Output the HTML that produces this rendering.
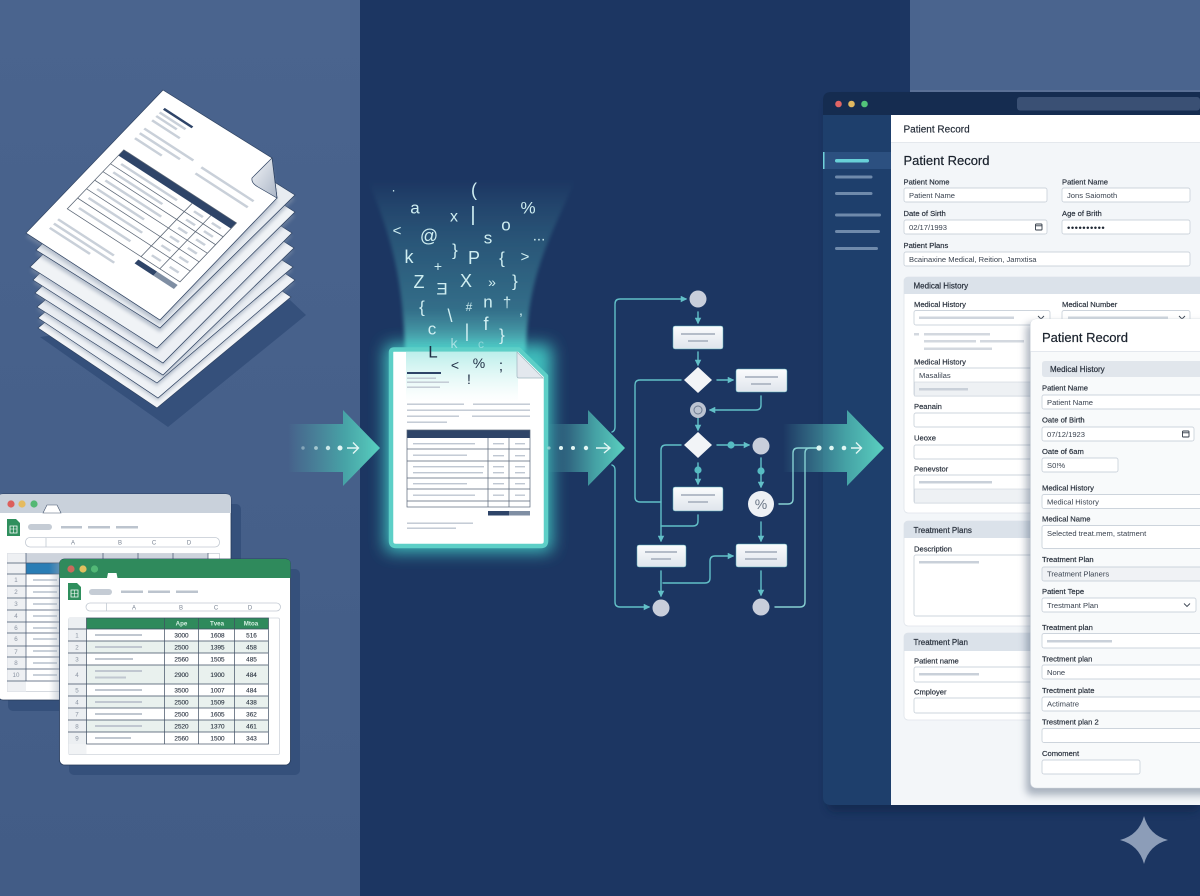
<!DOCTYPE html>
<html><head><meta charset="utf-8"><title>Documents to app pipeline</title>
<style>
html,body{margin:0;padding:0;background:#1c3560}
svg{display:block}
text{font-family:"Liberation Sans","DejaVu Sans",sans-serif}
.l{font-size:7.6px;fill:#28303c;stroke:#28303c;stroke-width:.18}
.v{font-size:7.6px;fill:#3a4350}
.h{font-size:8px;fill:#28303c;stroke:#28303c;stroke-width:.2}
.f{fill:#fff;stroke:#cdd4dc;stroke-width:.9}
.g{fill:#c9d0d9}
.n{font-size:6.4px;fill:#2a3340;text-anchor:middle;stroke:#2a3340;stroke-width:.12}
.rn{font-size:6.2px;fill:#8b94a2;text-anchor:middle}
.c{font-size:6px;fill:#7a8494;text-anchor:middle}
.s{fill:#cfeef1;text-anchor:middle;dominant-baseline:central}
.d{fill:#1f2e44;text-anchor:middle;dominant-baseline:central}
.fl{fill:none;stroke:#62c0c8;stroke-width:1.4;stroke-linejoin:round;stroke-linecap:round}
.r{fill:url(#rg)}
.b{fill:#b4bcc8}
.node{fill:#c8cedb}
.dot{fill:#56bcc2}
</style></head>
<body>
<svg width="1200" height="896" viewBox="0 0 1200 896" xmlns="http://www.w3.org/2000/svg">
<defs>
<linearGradient id="bgL" x1="0" y1="0" x2="0" y2="1"><stop offset="0" stop-color="#4a648e"/><stop offset="1" stop-color="#425c86"/></linearGradient>
<linearGradient id="rg" x1="0" y1="0" x2="0" y2="1"><stop offset="0" stop-color="#fbfcfd"/><stop offset="1" stop-color="#dfe5ec"/></linearGradient>
<linearGradient id="fold" x1="0" y1="0" x2="1" y2="1"><stop offset="0" stop-color="#f3f5f8"/><stop offset="1" stop-color="#aab5c6"/></linearGradient>
<linearGradient id="a1" x1="0" y1="0" x2="1" y2="0"><stop offset="0" stop-color="#4fa9ab" stop-opacity="0"/><stop offset=".18" stop-color="#4aa0a6" stop-opacity=".3"/><stop offset=".62" stop-color="#47a7a8" stop-opacity=".95"/><stop offset="1" stop-color="#5ad0c0"/></linearGradient>
<linearGradient id="fn" x1="0" y1="0" x2="0" y2="1"><stop offset="0" stop-color="#5cc4c4" stop-opacity="0"/><stop offset=".35" stop-color="#4fb2b8" stop-opacity=".25"/><stop offset=".75" stop-color="#4fb2b8" stop-opacity=".45"/><stop offset="1" stop-color="#62d6d0" stop-opacity=".85"/></linearGradient>
<linearGradient id="dt" x1="0" y1="0" x2="0" y2="1"><stop offset="0" stop-color="#8fe3dd" stop-opacity=".6"/><stop offset="1" stop-color="#bff0ec" stop-opacity="0"/></linearGradient>
<linearGradient id="cs" x1="0" y1="0" x2="1" y2="0"><stop offset="0" stop-color="#9aa6b5" stop-opacity="0"/><stop offset="1" stop-color="#9aa6b5" stop-opacity=".45"/></linearGradient>
<filter id="bl" x="-30%" y="-30%" width="160%" height="160%"><feGaussianBlur stdDeviation="8"/></filter>
<filter id="bl2" x="-30%" y="-30%" width="160%" height="160%"><feGaussianBlur stdDeviation="4"/></filter>
<filter id="bl1" x="-20%" y="-20%" width="140%" height="140%"><feGaussianBlur stdDeviation="1.8"/></filter>
<marker id="m" viewBox="0 0 8 8" refX="6.5" refY="4" markerWidth="6.5" markerHeight="6.5" markerUnits="userSpaceOnUse" orient="auto"><path d="M0 0L8 4L0 8Z" fill="#62c0c8"/></marker>
</defs>

<!-- backgrounds -->
<rect width="1200" height="896" fill="#1c3662"/>
<rect width="360" height="896" fill="url(#bgL)"/>
<rect x="910" width="290" height="100" fill="#4a648e"/>

<!-- paper stack -->
<polygon points="40,337 168,427 306,315 290,300 160,320" fill="#35507b"/>
<g stroke="#2d4160" stroke-width=".7">
<polygon points="38,328 157,408 291,297 172,217" fill="#f2f4f7"/>
<polygon points="38,318 158,398 295,280 175,200" fill="#8795aa" opacity=".45" stroke="none" transform="translate(0,3)" filter="url(#bl1)"/>
<polygon points="38,318 158,398 295,280 175,200" fill="#eff2f6"/>
<polygon points="37,307 157,383 293,267 173,191" fill="#8795aa" opacity=".5" stroke="none" transform="translate(0,3)" filter="url(#bl1)"/>
<polygon points="37,307 157,383 293,267 173,191" fill="#e9edf2"/>
<polygon points="35,293 163,375 294,248 166,166" fill="#8795aa" opacity=".5" stroke="none" transform="translate(0,3)" filter="url(#bl1)"/>
<polygon points="35,293 163,375 294,248 166,166" fill="#eef1f5"/>
<polygon points="33,280 163,363 292,233 162,150" fill="#8795aa" opacity=".5" stroke="none" transform="translate(0,3)" filter="url(#bl1)"/>
<polygon points="33,280 163,363 292,233 162,150" fill="#eceff4"/>
<polygon points="30,267 157,348 295,212 168,131" fill="#8795aa" opacity=".5" stroke="none" transform="translate(0,4)" filter="url(#bl1)"/>
<polygon points="30,267 157,348 295,212 168,131" fill="#f0f3f6"/>
<polygon points="36,250 160,328 295,195 171,117" fill="#8795aa" opacity=".55" stroke="none" transform="translate(0,4)" filter="url(#bl1)"/>
<polygon points="36,250 160,328 295,195 171,117" fill="#e8ecf1"/>
<polygon points="163,90 272,158 277,198 160,320 26,233" fill="#8795aa" opacity=".5" stroke="none" transform="translate(0,4)" filter="url(#bl1)"/>
<polygon points="163,90 272,158 277,198 160,320 26,233" fill="#fff"/>
<path d="M272,158L252,178Q251,183 258,187L277,198Z" fill="url(#fold)"/>
</g>
<g transform="matrix(.447 .29 -.3425 .3575 163 90)">
<rect x="26" y="29" width="64" height="5" fill="#2e4468"/>
<g class="g">
<rect x="25" y="40" width="58" height="5"/><rect x="25" y="50" width="46" height="5"/><rect x="25" y="62" width="62" height="5"/>
<rect x="25" y="85" width="110" height="5"/><rect x="25" y="98" width="90" height="5"/><rect x="25" y="112" width="60" height="5"/>
<rect x="155" y="88" width="117" height="5"/><rect x="155" y="105" width="117" height="5"/>
<rect x="26" y="338" width="125" height="5"/><rect x="26" y="350" width="135" height="5"/><rect x="26" y="362" width="90" height="5"/>
<rect x="40" y="172" width="125" height="5"/><rect x="40" y="195" width="110" height="5"/><rect x="40" y="218" width="125" height="5"/><rect x="40" y="242" width="105" height="5"/><rect x="40" y="267" width="120" height="5"/><rect x="40" y="295" width="115" height="5"/>
<rect x="203" y="172" width="20" height="5"/><rect x="243" y="172" width="20" height="5"/><rect x="203" y="195" width="20" height="5"/><rect x="243" y="195" width="20" height="5"/><rect x="203" y="218" width="20" height="5"/><rect x="243" y="218" width="20" height="5"/><rect x="203" y="242" width="20" height="5"/><rect x="243" y="242" width="20" height="5"/><rect x="203" y="267" width="20" height="5"/><rect x="243" y="267" width="20" height="5"/><rect x="203" y="295" width="20" height="5"/><rect x="243" y="295" width="20" height="5"/>
</g>
<rect x="25" y="147" width="252" height="16" fill="#2e4468"/>
<g fill="none" stroke="#5b6675" stroke-width="1.5">
<rect x="25" y="147" width="252" height="165"/>
<path d="M25 186H277M25 208H277M25 232H277M25 256H277M25 282H277M190 163V312M232 163V312"/>
</g>
<rect x="190" y="320" width="42" height="11" fill="#2e4468"/><rect x="232" y="320" width="46" height="11" fill="#7f8ea3"/>
</g>

<!-- back spreadsheet -->
<rect x="8" y="504" width="233" height="207" rx="5" fill="#35507b"/>
<rect x="-2" y="494" width="233" height="206" rx="5" fill="#fff" stroke="#263a5a" stroke-width=".8"/>
<path d="M-2 513V499Q-2 494 3 494H226Q231 494 231 499V513Z" fill="#c9d1db"/>
<path d="M43 513L47 505H57L61 513Z" fill="#fff" stroke="#44546e" stroke-width=".6"/>
<circle cx="11" cy="504" r="3.6" fill="#dc5f5c"/><circle cx="22" cy="504" r="3.6" fill="#e5bb5f"/><circle cx="34" cy="504" r="3.6" fill="#54b874"/>
<path d="M7 519H16L20 523V536H7Z" fill="#2f8f5d"/><path d="M10 526H17V533H10Z" fill="none" stroke="#fff" stroke-width=".8"/><path d="M10 529H17M13.5 526V533" stroke="#fff" stroke-width=".6"/>
<rect x="28" y="524" width="24" height="6" rx="3" fill="#c5ccd5"/><rect x="61" y="526" width="21" height="2.5" fill="#bcc4ce"/><rect x="88" y="526" width="22" height="2.5" fill="#bcc4ce"/><rect x="116" y="526" width="22" height="2.5" fill="#bcc4ce"/>
<rect x="25.500" y="537.500" width="194" height="9.500" rx="4.500" fill="#fff" stroke="#c2c9d2" stroke-width=".8"/><path d="M46 538V547" stroke="#c2c9d2" stroke-width=".8"/>
<text x="73" y="544.500" class="c">A</text><text x="120" y="544.500" class="c">B</text><text x="154" y="544.500" class="c">C</text><text x="189" y="544.500" class="c">D</text>
<rect x="7.500" y="553.500" width="212" height="138" fill="#fff" stroke="#c5cbd3" stroke-width=".7"/>
<rect x="7.500" y="553.500" width="18.500" height="138" fill="#eef0f3"/>
<rect x="26" y="553.500" width="182" height="9.500" fill="#cdd3dc"/>
<rect x="26" y="563" width="33" height="11" fill="#2a7db5"/>
<g stroke="#44546e" stroke-width=".7" fill="none"><path d="M26 553V681M7 563H60M7 574H60M7 586H60M7 598H60M7 610H60M7 622H60M7 633H60M7 646H60M7 657H60M7 669H60M7 681H60M103 553V559M138 553V559M173 553V559M208 553V559"/></g>
<g class="rn"><text x="16" y="582">1</text><text x="16" y="594">2</text><text x="16" y="606">3</text><text x="16" y="618">4</text><text x="16" y="630">6</text><text x="16" y="641">6</text><text x="16" y="654">7</text><text x="16" y="665">8</text><text x="16" y="677">10</text></g>
<g class="g"><rect x="33" y="579" width="24" height="2"/><rect x="33" y="591" width="24" height="2"/><rect x="33" y="603" width="24" height="2"/><rect x="33" y="615" width="24" height="2"/><rect x="33" y="627" width="24" height="2"/><rect x="33" y="638" width="24" height="2"/><rect x="33" y="650" width="24" height="2"/><rect x="33" y="662" width="24" height="2"/><rect x="33" y="674" width="24" height="2"/></g>
<rect x="49" y="563" width="10" height="137" fill="url(#cs)"/>

<!-- front spreadsheet -->
<rect x="69" y="569" width="231" height="206" rx="5" fill="#35507b"/>
<rect x="59.500" y="559" width="231" height="206" rx="5" fill="#fff" stroke="#263a5a" stroke-width=".8"/>
<path d="M59.500 578V564Q59.500 559 64.500 559H285.500Q290.500 559 290.500 564V578Z" fill="#2f8a5c"/>
<path d="M107 578L108 573H116.500L117.500 578Z" fill="#fff"/>
<circle cx="71" cy="569" r="3.600" fill="#c96a5c"/><circle cx="83" cy="569" r="3.600" fill="#e0c05f"/><circle cx="94.500" cy="569" r="3.600" fill="#52b876"/>
<path d="M68 583H77L81 587V600H68Z" fill="#2f8f5d"/><path d="M71 590H78V597H71Z" fill="none" stroke="#fff" stroke-width=".8"/><path d="M71 593.500H78M74.500 590V597" stroke="#fff" stroke-width=".6"/>
<rect x="89" y="589" width="23" height="6" rx="3" fill="#c5ccd5"/><rect x="121" y="590.500" width="22" height="2.500" fill="#bcc4ce"/><rect x="148" y="590.500" width="22" height="2.500" fill="#bcc4ce"/><rect x="176" y="590.500" width="22" height="2.500" fill="#bcc4ce"/>
<rect x="86" y="603" width="194.500" height="8" rx="4" fill="#fff" stroke="#c2c9d2" stroke-width=".8"/><path d="M106.500 603V611" stroke="#c2c9d2" stroke-width=".8"/>
<text x="134" y="609.500" class="c">A</text><text x="181" y="609.500" class="c">B</text><text x="216" y="609.500" class="c">C</text><text x="250" y="609.500" class="c">D</text>
<rect x="68.500" y="618" width="211" height="136.500" rx="1.500" fill="#fff" stroke="#d0d5dc" stroke-width=".8"/>
<rect x="68.500" y="618" width="18" height="126" fill="#eceff2"/>
<rect x="68.500" y="744" width="18" height="10" fill="#f1f3f5"/>
<rect x="86.500" y="618" width="182" height="11" fill="#2f8a5c"/>
<g fill="#e9f1ee"><rect x="86.500" y="641" width="182" height="12"/><rect x="86.500" y="665" width="182" height="19"/><rect x="86.500" y="696" width="182" height="12"/><rect x="86.500" y="720" width="182" height="12"/></g>
<g stroke="#3f4f63" stroke-width=".7" fill="none"><rect x="86.500" y="618" width="182" height="126"/><path d="M68 629H268M68 641H268M68 653H268M68 665H268M68 684H268M68 696H268M68 708H268M68 720H268M68 732H268M164.500 618V744M198.500 618V744M234.500 618V744"/></g>
<g font-size="6.200" fill="#d6f0e3" text-anchor="middle" font-weight="bold"><text x="181.500" y="625.500">Ape</text><text x="217" y="625.500">Tvea</text><text x="251" y="625.500">Mtoa</text></g>
<g class="rn"><text x="77" y="637.500">1</text><text x="77" y="649.500">2</text><text x="77" y="661.500">3</text><text x="77" y="677">4</text><text x="77" y="692.500">5</text><text x="77" y="704.500">4</text><text x="77" y="716.500">7</text><text x="77" y="728.500">8</text><text x="77" y="740.500">9</text></g>
<g class="n">
<text x="181.500" y="637.500">3000</text><text x="217.500" y="637.500">1608</text><text x="251.500" y="637.500">516</text>
<text x="181.500" y="649.500">2500</text><text x="217.500" y="649.500">1395</text><text x="251.500" y="649.500">458</text>
<text x="181.500" y="661.500">2560</text><text x="217.500" y="661.500">1505</text><text x="251.500" y="661.500">485</text>
<text x="181.500" y="677">2900</text><text x="217.500" y="677">1900</text><text x="251.500" y="677">484</text>
<text x="181.500" y="692.500">3500</text><text x="217.500" y="692.500">1007</text><text x="251.500" y="692.500">484</text>
<text x="181.500" y="704.500">2500</text><text x="217.500" y="704.500">1509</text><text x="251.500" y="704.500">438</text>
<text x="181.500" y="716.500">2500</text><text x="217.500" y="716.500">1605</text><text x="251.500" y="716.500">362</text>
<text x="181.500" y="728.500">2520</text><text x="217.500" y="728.500">1370</text><text x="251.500" y="728.500">461</text>
<text x="181.500" y="740.500">2560</text><text x="217.500" y="740.500">1500</text><text x="251.500" y="740.500">343</text>
</g>
<g fill="#c0c7d0"><rect x="95" y="634" width="47" height="2"/><rect x="95" y="646" width="47" height="2"/><rect x="95" y="658" width="38" height="2"/><rect x="95" y="670" width="47" height="2"/><rect x="95" y="676.500" width="31" height="2"/><rect x="95" y="689" width="47" height="2"/><rect x="95" y="701" width="47" height="2"/><rect x="95" y="713" width="47" height="2"/><rect x="95" y="725" width="47" height="2"/><rect x="95" y="737" width="36" height="2"/></g>

<!-- funnel -->
<path d="M368 180H575C555 230 527 270 526 352H405C403 270 388 230 368 180Z" fill="url(#fn)" filter="url(#bl1)"/>

<!-- arrow 1 -->
<path d="M288 424H343V410L380 448L343 486V472H288Z" fill="url(#a1)"/>
<g fill="#e2f6f4"><circle cx="303" cy="448" r="1.700" opacity=".4"/><circle cx="316" cy="448" r="1.900" opacity=".6"/><circle cx="328" cy="448" r="2.200" opacity=".85"/><circle cx="340" cy="448" r="2.500"/></g>
<path d="M347 448H358M353 442.500L358.500 448L353 453.500" fill="none" stroke="#e3f7f5" stroke-width="1.400"/>

<!-- document -->
<rect x="385" y="344" width="167" height="208" rx="6" fill="#45d6cc" filter="url(#bl)" opacity=".85"/>
<path d="M394 349.500H519L546 376V541Q546 546 541 546H396Q391 546 391 541V352.500Q391 349.500 394 349.500Z" fill="#fff" stroke="#5dcfc7" stroke-width="4.500" stroke-linejoin="round"/>
<rect x="406" y="352" width="112" height="50" fill="url(#dt)"/>
<path d="M517 352L543 378H519Q517 378 517 376Z" fill="#e3e8ee" stroke="#9fb5bf" stroke-width=".7"/>
<rect x="407" y="372" width="34" height="2" fill="#2e4468"/>
<g fill="#bfc7d2"><rect x="407" y="377.500" width="29" height="1.400"/><rect x="407" y="381.500" width="42" height="1.400"/><rect x="407" y="386.500" width="33" height="1.400"/><rect x="407" y="403.500" width="57" height="1.400"/><rect x="473" y="403.500" width="57" height="1.400"/><rect x="407" y="409.500" width="123" height="1.400"/><rect x="407" y="415.500" width="52" height="1.400"/><rect x="472" y="415.500" width="58" height="1.400"/><rect x="407" y="421.500" width="40" height="1.400"/>
<rect x="413" y="443" width="62" height="1.400"/><rect x="413" y="454.500" width="54" height="1.400"/><rect x="413" y="466" width="71" height="1.400"/><rect x="413" y="472" width="70" height="1.400"/><rect x="413" y="483" width="54" height="1.400"/><rect x="413" y="494.500" width="62" height="1.400"/>
<rect x="493" y="443" width="11" height="1.400"/><rect x="515" y="443" width="10" height="1.400"/><rect x="493" y="455" width="11" height="1.400"/><rect x="515" y="455" width="10" height="1.400"/><rect x="493" y="466" width="11" height="1.400"/><rect x="515" y="466" width="10" height="1.400"/><rect x="493" y="472" width="11" height="1.400"/><rect x="515" y="472" width="10" height="1.400"/><rect x="493" y="483" width="11" height="1.400"/><rect x="515" y="483" width="10" height="1.400"/><rect x="493" y="494.500" width="11" height="1.400"/><rect x="515" y="494.500" width="10" height="1.400"/>
<rect x="407" y="522.500" width="66" height="1.400"/><rect x="407" y="527.500" width="49" height="1.400"/></g>
<rect x="407" y="430" width="123" height="8" fill="#2e4468"/>
<g fill="none" stroke="#596678" stroke-width=".7"><rect x="407" y="430" width="123" height="77"/><path d="M407 449H530M407 461H530M407 478H530M407 489H530M407 501H530M488 438V507M509 438V507"/></g>
<rect x="488" y="511" width="21" height="4.500" fill="#2e4468"/><rect x="509" y="511" width="21" height="4.500" fill="#7f8ea3"/>

<!-- glyphs -->
<g class="s">
<text x="393.500" y="187" font-size="13">.</text><text x="474" y="190" font-size="18">(</text><text x="415" y="208" font-size="17">a</text><text x="528" y="208" font-size="17">%</text><text x="454" y="217" font-size="16">x</text><text x="473" y="215" font-size="20">|</text><text x="506" y="225" font-size="17">o</text><text x="397" y="231" font-size="15">&lt;</text><text x="429" y="236" font-size="18">@</text><text x="488" y="238" font-size="17">s</text><text x="539" y="236" font-size="15">...</text><text x="455" y="250" font-size="17">}</text><text x="409" y="257" font-size="18">k</text><text x="474" y="258" font-size="18">P</text><text x="502" y="258" font-size="17">{</text><text x="525" y="257" font-size="15">&gt;</text><text x="438" y="266" font-size="14">+</text>
<text x="419" y="282" font-size="18">Z</text><text x="442" y="289" font-size="17">Ǝ</text><text x="466" y="281" font-size="18">X</text><text x="492" y="282" font-size="14">»</text><text x="515" y="281" font-size="17">}</text><text x="422" y="307" font-size="17">{</text><text x="450" y="316" font-size="18">\</text><text x="469" y="307" font-size="12">#</text><text x="488" y="302" font-size="17">n</text><text x="507" y="303" font-size="15">†</text><text x="521" y="310" font-size="14">,</text><text x="432" y="329" font-size="17">c</text><text x="467" y="331" font-size="18">|</text><text x="486" y="324" font-size="18">f</text><text x="502" y="335" font-size="17">}</text><text x="454" y="343" font-size="14" opacity=".7">k</text><text x="481" y="344" font-size="12" opacity=".5">c</text>
</g>
<g class="d"><text x="433" y="352" font-size="17">L</text><text x="455" y="365" font-size="14">&lt;</text><text x="479" y="363" font-size="14">%</text><text x="469" y="379" font-size="14">!</text><text x="501" y="366" font-size="15">;</text></g>

<!-- arrow 2 -->
<path d="M546 424H588V410L625 448L588 486V472H546Z" fill="url(#a1)"/>
<g fill="#e2f6f4"><circle cx="549" cy="448" r="1.600" opacity=".5"/><circle cx="561" cy="448" r="2"/><circle cx="573" cy="448" r="2"/><circle cx="586" cy="448" r="2.200"/></g>
<path d="M596 448H609M604 443L610 448L604 453" fill="none" stroke="#e3f7f5" stroke-width="1.400"/>

<!-- flowchart connectors -->
<g class="fl">
<path d="M612 432Q615 431 615 427V304Q615 299 620 299H686" marker-end="url(#m)"/>
<path d="M612 465Q615 466 615 470V602Q615 607 620 607H649" marker-end="url(#m)"/>
<path d="M698 312V323" marker-end="url(#m)"/>
<path d="M698 352V365" marker-end="url(#m)"/>
<path d="M717 380H733" marker-end="url(#m)"/>
<path d="M681 380H640Q635 380 635 385V497Q635 502 640 502H661"/>
<path d="M761 396V405Q761 410 756 410H710" marker-end="url(#m)"/>
<path d="M698 418V430" marker-end="url(#m)"/>
<path d="M717 445H749" marker-end="url(#m)"/>
<path d="M698 463V484" marker-end="url(#m)"/>
<path d="M681 445H666Q661 445 661 450V541" marker-end="url(#m)"/>
<path d="M698 515V521Q698 526 693 526H661"/>
<path d="M761 458V487" marker-end="url(#m)"/>
<path d="M761 522V541" marker-end="url(#m)"/>
<path d="M761 571V595" marker-end="url(#m)"/>
<path d="M661 571V596" marker-end="url(#m)"/>
<path d="M663 583H705Q710 583 710 578V561Q710 556 715 556H733" marker-end="url(#m)"/>
</g>
<g class="dot"><circle cx="731" cy="445" r="3.600"/><circle cx="761" cy="471" r="3.600"/><circle cx="698" cy="470" r="3.600"/></g>
<g class="node"><circle cx="698" cy="299" r="8.500"/><circle cx="761" cy="446" r="8.500"/><circle cx="761" cy="607" r="8.500"/><circle cx="661" cy="608" r="8.500"/></g>
<circle cx="698" cy="410" r="8" fill="#bcc4d2"/><circle cx="698" cy="410" r="4" fill="none" stroke="#6e7c92" stroke-width="1"/>
<g class="r" stroke="#5aaeb8" stroke-width=".5">
<rect x="673" y="326" width="50" height="23" rx="2"/><rect x="736" y="369" width="51" height="23" rx="2"/><rect x="673" y="487" width="50" height="24" rx="2"/><rect x="637" y="545" width="49" height="22" rx="2"/><rect x="736" y="544" width="51" height="23" rx="2"/>
</g>
<g class="b">
<rect x="681" y="333" width="34" height="2"/><rect x="688" y="340" width="20" height="2"/><rect x="745" y="376" width="33" height="2"/><rect x="751" y="383" width="20" height="2"/><rect x="681" y="494" width="34" height="2"/><rect x="688" y="501" width="20" height="2"/><rect x="645" y="551" width="32" height="2"/><rect x="651" y="558" width="20" height="2"/><rect x="745" y="551" width="32" height="2"/><rect x="745" y="558" width="32" height="2"/>
</g>
<polygon points="698,367 712,380 698,393 684,380" fill="#f2f4f7"/>
<polygon points="698,432 712,445 698,458 684,445" fill="#f2f4f7"/>
<circle cx="761" cy="504" r="13" fill="#eef1f5"/>
<text x="761" y="509" font-size="14" fill="#6a7686" text-anchor="middle">%</text>

<!-- app window -->
<rect x="827" y="100" width="373" height="712" rx="8" fill="#0d2144" opacity=".55" filter="url(#bl2)"/>
<path d="M831 92H1200V805H831Q823 805 823 797V100Q823 92 831 92Z" fill="#1e3f6c"/>
<path d="M831 92H1200V115H823V100Q823 92 831 92Z" fill="#152c50"/>
<rect x="910" y="90" width="290" height="2" fill="#5a7096"/>
<rect x="1017" y="97" width="183" height="13.500" rx="3" fill="#3a5074"/>
<circle cx="838.500" cy="104" r="3.300" fill="#e06565"/><circle cx="851.500" cy="104" r="3.300" fill="#e0b860"/><circle cx="864.500" cy="104" r="3.300" fill="#52c47a"/>
<rect x="823" y="152" width="68" height="17" fill="#2c5080"/><rect x="823" y="152" width="1.500" height="17" fill="#6fd0da"/>
<rect x="835" y="159" width="34" height="3.500" rx="1.700" fill="#68d0d8"/>
<g fill="#6f8aab"><rect x="835" y="175.500" width="37.500" height="3" rx="1.500"/><rect x="835" y="192" width="37.500" height="3" rx="1.500"/><rect x="835" y="213.500" width="46" height="3" rx="1.500"/><rect x="835" y="230" width="45" height="3" rx="1.500"/><rect x="835" y="247" width="43" height="3" rx="1.500"/></g>
<rect x="891" y="115" width="309" height="690" fill="#f3f6f9"/>
<rect x="891" y="115" width="309" height="27" fill="#fff"/><rect x="891" y="142" width="309" height="1" fill="#e4e8ed"/>
<text x="903.500" y="132.500" font-size="10" fill="#1f2733" stroke="#1f2733" stroke-width=".15">Patient Record</text>
<text x="903.500" y="165" font-size="13" fill="#1a222d" stroke="#1a222d" stroke-width=".2">Patient Record</text>
<text x="903.500" y="184.500" class="l">Patient Nome</text><text x="1062" y="184.500" class="l">Patient Name</text>
<rect x="904" y="188" width="143" height="14" rx="2" class="f"/><rect x="1062" y="188" width="128" height="14" rx="2" class="f"/>
<text x="909" y="198" class="v">Patient Name</text><text x="1067" y="198" class="v">Jons Saiomoth</text>
<text x="903.500" y="216" class="l">Date of Sirth</text><text x="1062" y="216" class="l">Age of Brith</text>
<rect x="904" y="220" width="143" height="14" rx="2" class="f"/><rect x="1062" y="220" width="128" height="14" rx="2" class="f"/>
<text x="909" y="230" class="v">02/17/1993</text>
<g fill="none" stroke="#333c48" stroke-width=".9"><rect x="1035.500" y="224" width="6.500" height="6" rx=".8"/><path d="M1035.500 225.800H1042"/></g>
<text x="1067" y="231" font-size="9.500" fill="#1f2733" letter-spacing=".5">••••••••••</text>
<text x="903.500" y="248" class="l">Patient Plans</text>
<rect x="904" y="252" width="286" height="14" rx="2" class="f"/><text x="909" y="262" class="v">Bcainaxine Medical, Reition, Jamxtisa</text>

<!-- Medical History panel -->
<rect x="904" y="277" width="310" height="236" rx="4" fill="#fff" stroke="#dfe4ea" stroke-width=".8"/>
<path d="M904 294V281Q904 277 908 277H1200V294Z" fill="#dbe2ea"/>
<text x="913.500" y="288.500" class="h">Medical History</text>
<text x="914" y="307" class="l">Medical History</text><text x="1062" y="307" class="l">Medical Number</text>
<rect x="914" y="310.500" width="136" height="14.500" rx="2" class="f"/><rect x="1062" y="310.500" width="128" height="14.500" rx="2" class="f"/>
<rect x="919" y="316.500" width="95" height="2.500" fill="#cfd5dd"/><rect x="1068" y="316.500" width="100" height="2.500" fill="#cfd5dd"/>
<path d="M1038 316L1041 319L1044 316M1179 316L1182 319L1185 316" fill="none" stroke="#3a4452" stroke-width=".9"/>
<g fill="#d3d8df"><rect x="914" y="333" width="5" height="2.500"/><rect x="924" y="333" width="66" height="2.500"/><rect x="924" y="340" width="52" height="2.500"/><rect x="980" y="340" width="44" height="2.500"/><rect x="924" y="347.500" width="68" height="2.500"/></g>
<text x="914" y="364.500" class="l">Medical History</text>
<rect x="914" y="368" width="120" height="28" rx="2" class="f"/><rect x="914.500" y="382" width="119" height="14" fill="#eef1f4" stroke="#cdd4dc" stroke-width=".6"/>
<text x="919" y="378" class="v">Masalilas</text><rect x="919" y="388" width="49" height="2.500" fill="#c9d0d9"/>
<text x="914" y="409" class="l">Peanain</text><rect x="914" y="413" width="120" height="14" rx="2" class="f"/>
<text x="914" y="440.500" class="l">Ueoxe</text><rect x="914" y="445" width="120" height="14" rx="2" class="f"/>
<text x="914" y="471.500" class="l">Penevstor</text><rect x="914" y="475" width="120" height="28" rx="2" class="f"/><rect x="914.500" y="489" width="119" height="14" fill="#eef1f4" stroke="#cdd4dc" stroke-width=".6"/><rect x="919" y="481" width="73" height="2.500" fill="#c9d0d9"/>

<!-- Treatment Plans panel -->
<rect x="904" y="521" width="310" height="105" rx="4" fill="#fff" stroke="#dfe4ea" stroke-width=".8"/>
<path d="M904 538V525Q904 521 908 521H1200V538Z" fill="#dbe2ea"/>
<text x="913.500" y="533" class="h">Treatment Plans</text>
<text x="914" y="551.500" class="l">Description</text>
<rect x="914" y="555" width="120" height="61" rx="2" class="f"/><rect x="919" y="561" width="60" height="2.500" fill="#c9d0d9"/>

<!-- Treatment Plan panel -->
<rect x="904" y="633" width="310" height="87" rx="4" fill="#fff" stroke="#dfe4ea" stroke-width=".8"/>
<path d="M904 651V637Q904 633 908 633H1200V651Z" fill="#dbe2ea"/>
<text x="913.500" y="645" class="h">Treatment Plan</text>
<text x="914" y="663.500" class="l">Patient name</text>
<rect x="914" y="667" width="120" height="15" rx="2" class="f"/><rect x="919" y="673" width="60" height="2.500" fill="#c9d0d9"/>
<text x="914" y="694.500" class="l">Cmployer</text><rect x="914" y="698" width="120" height="15" rx="2" class="f"/>

<!-- modal -->
<rect x="1026" y="323" width="190" height="472" rx="6" fill="#3a4d68" opacity=".4" filter="url(#bl2)"/>
<path d="M1037 319H1210V788H1037Q1030.500 788 1030.500 782V325.500Q1030.500 319 1037 319Z" fill="#f8fafb" stroke="#d3d9e0" stroke-width=".6"/>
<path d="M1037 319H1210V351H1030.500V325.500Q1030.500 319 1037 319Z" fill="#fff"/>
<rect x="1030.500" y="351" width="170" height=".8" fill="#dfe4ea"/>
<text x="1042" y="342" font-size="13" fill="#1a222d" stroke="#1a222d" stroke-width=".2">Patient Record</text>
<path d="M1045 361H1200V377H1045Q1042 377 1042 374V364Q1042 361 1045 361Z" fill="#e1e6ec"/>
<text x="1050" y="372" class="h">Medical History</text>
<text x="1042" y="390.500" class="l">Patient Name</text><rect x="1042" y="395" width="170" height="14" rx="2" class="f"/><text x="1047" y="405" class="v">Patient Name</text>
<text x="1042" y="422.500" class="l">Oate of Birth</text><rect x="1042" y="427" width="152" height="14" rx="2" class="f"/><text x="1047" y="437" class="v">07/12/1923</text>
<g fill="none" stroke="#333c48" stroke-width=".9"><rect x="1182.500" y="431" width="6.500" height="6" rx=".8"/><path d="M1182.500 432.800H1189"/></g>
<text x="1042" y="454" class="l">Oate of 6am</text><rect x="1042" y="458" width="76" height="14" rx="2" class="f"/><text x="1047" y="468" class="v">S0!%</text>
<text x="1042" y="490.500" class="l">Medical History</text><rect x="1042" y="494.500" width="170" height="14" rx="2" class="f"/><text x="1047" y="504.500" class="v">Medical History</text>
<text x="1042" y="521.500" class="l">Medical Name</text><rect x="1042" y="525.500" width="170" height="23" rx="2" class="f"/><text x="1047" y="536" class="v">Selected treat.mem, statment</text>
<text x="1042" y="562" class="l">Treatment Plan</text><rect x="1042" y="567" width="170" height="14" rx="2" fill="#f0f2f5" stroke="#cdd4dc" stroke-width=".9"/><text x="1047" y="576.500" class="v">Treatment Planers</text>
<text x="1042" y="594" class="l">Patient Tepe</text><rect x="1042" y="598" width="154" height="14" rx="2" class="f"/><text x="1047" y="608" class="v">Trestmant Plan</text>
<path d="M1184 603.500L1187 606.500L1190 603.500" fill="none" stroke="#3a4452" stroke-width=".9"/>
<text x="1042" y="630" class="l">Treatment plan</text><rect x="1042" y="633.500" width="170" height="14.500" rx="2" class="f"/><rect x="1047" y="640" width="65" height="2.500" fill="#c9d0d9"/>
<text x="1042" y="661.500" class="l">Trectment plan</text><rect x="1042" y="665" width="170" height="14" rx="2" class="f"/><text x="1047" y="675" class="v">None</text>
<text x="1042" y="693" class="l">Trectment plate</text><rect x="1042" y="697" width="170" height="14" rx="2" class="f"/><text x="1047" y="706.500" class="v">Actimatre</text>
<text x="1042" y="724.500" class="l">Trestment plan 2</text><rect x="1042" y="728.500" width="170" height="14" rx="2" class="f"/>
<text x="1042" y="756" class="l">Comoment</text><rect x="1042" y="760" width="98" height="14" rx="2" class="f"/>

<!-- arrow 3 -->
<path d="M783 424H847V410L884 448L847 486V472H783Z" fill="url(#a1)"/>
<g class="fl" style="stroke:#86d0d2">
<path d="M779 504H788Q793 504 793 499V453Q793 448 798 448H819"/>
<path d="M775 607H800Q805 607 805 602V453Q805 448 810 448H819"/>
</g>
<g fill="#dff6f3"><circle cx="819" cy="448" r="2.600"/><circle cx="831.500" cy="448" r="2.300"/><circle cx="844" cy="448" r="2.300"/></g>
<path d="M851 448H861M856 442.500L861.500 448L856 453.500" fill="none" stroke="#e3f7f5" stroke-width="1.400"/>

<!-- sparkle -->
<path d="M1144 816Q1149 835 1168 840Q1149 845 1144 864Q1139 845 1120 840Q1139 835 1144 816Z" fill="#8c9db8"/>
</svg>
</body></html>
